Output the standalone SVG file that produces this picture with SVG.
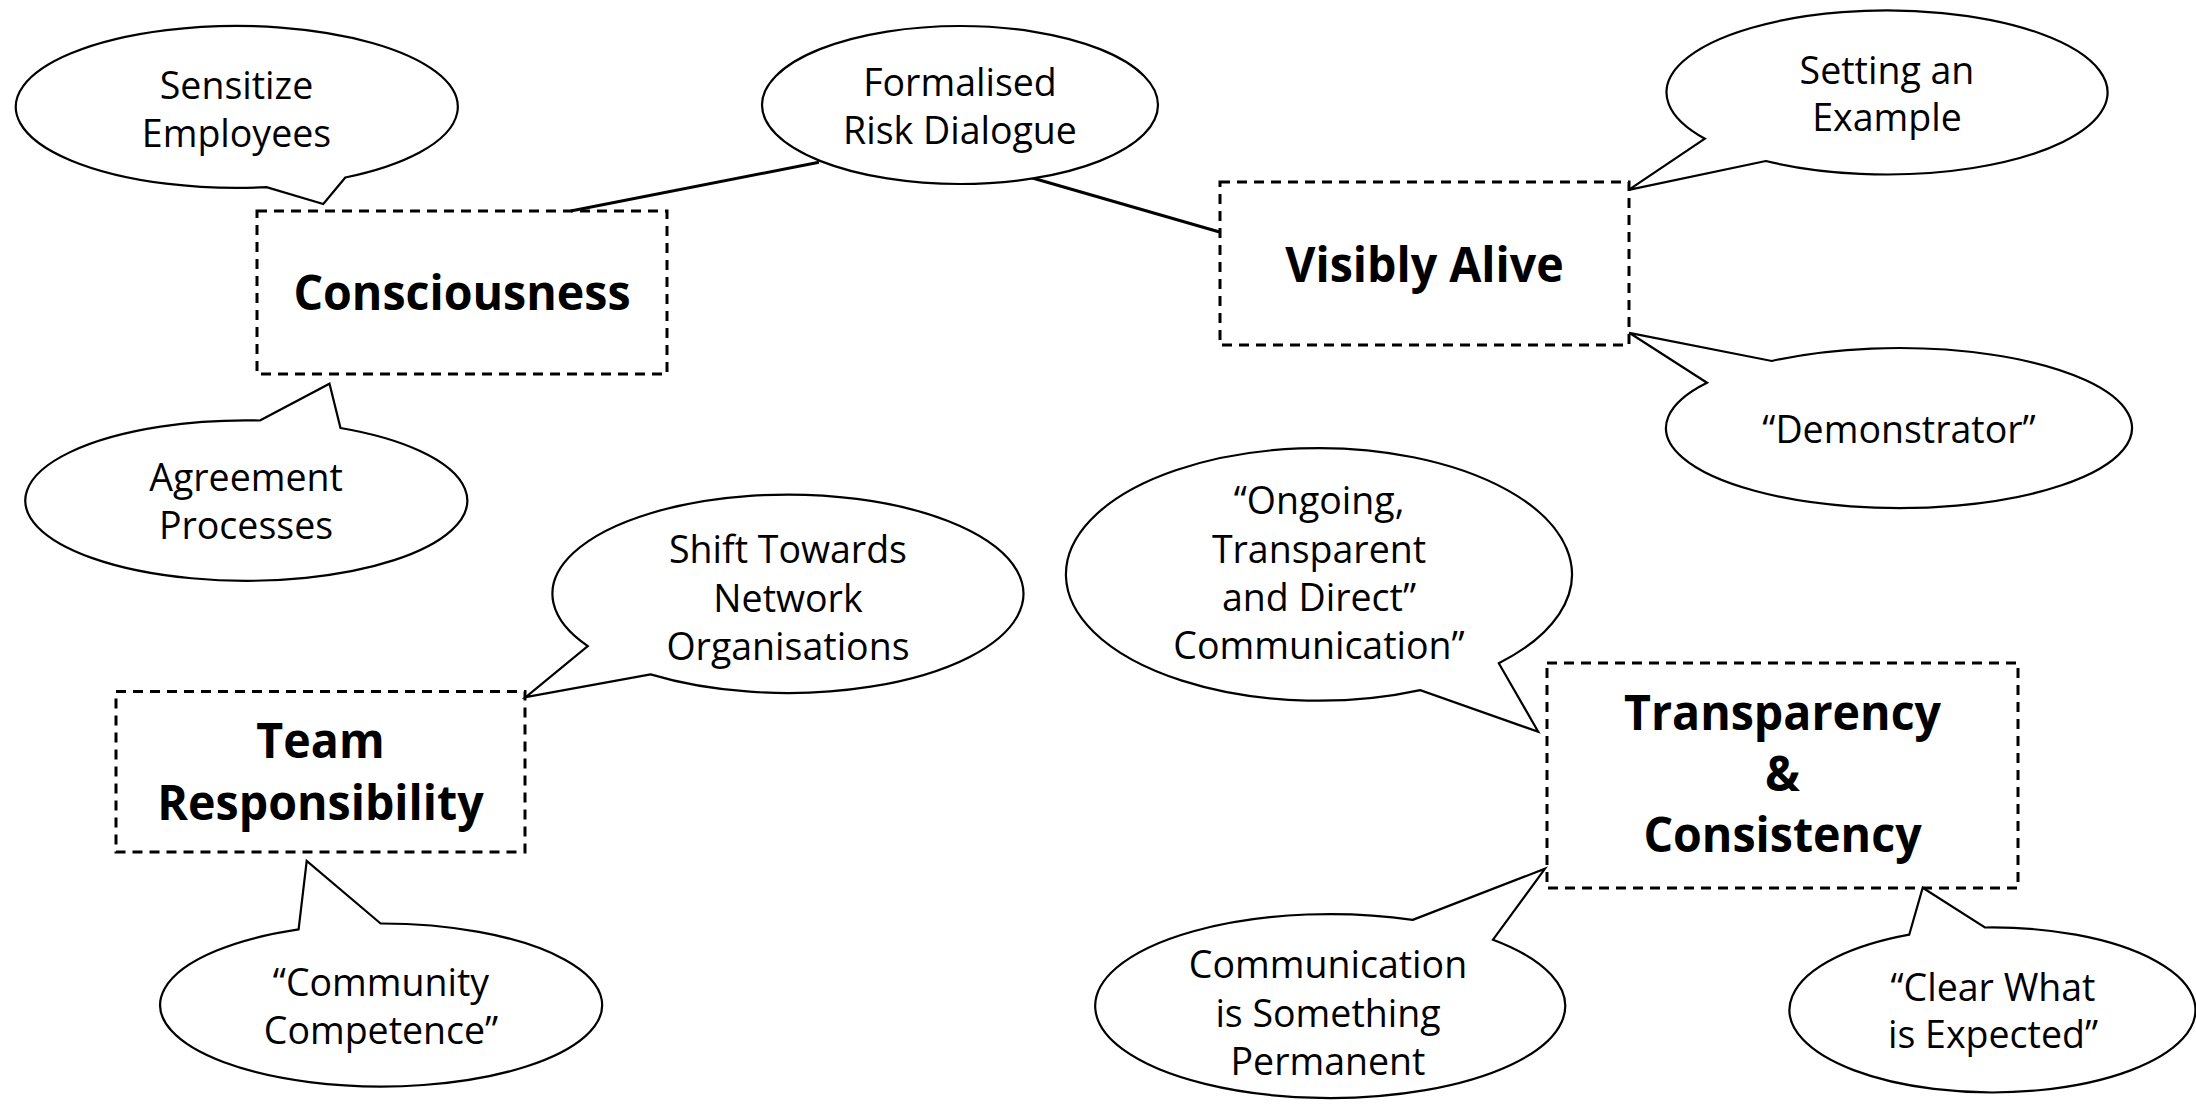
<svg xmlns="http://www.w3.org/2000/svg" width="2196" height="1106" viewBox="0 0 2196 1106">
<style>
.bal{fill:#fff;stroke:#000;stroke-width:2.2;stroke-linejoin:miter}
.box{fill:none;stroke:#000;stroke-width:3;stroke-dasharray:10 7}
.con{stroke:#000;stroke-width:3;fill:none}
.t{font-family:"Open Sans","DejaVu Sans",sans-serif;font-size:37.5px;fill:#000;text-anchor:middle}
.b{font-family:"Open Sans","DejaVu Sans",sans-serif;font-size:48px;font-weight:bold;fill:#000;text-anchor:middle}
</style>
<rect width="2196" height="1106" fill="#fff"/>
<g id="connectors">
<line class="con" x1="570.7" y1="211" x2="819" y2="162.3"/>
<line class="con" x1="1031.6" y1="177.7" x2="1220.4" y2="232.3"/>
</g>
<g id="sensitize">
<path class="bal" d="M345.3,177.5 L323.3,204 L266.5,187.2 A221 81 0 1 1 345.3,177.5 Z"/>
<text class="t" x="236.5" y="99.3">Sensitize</text>
<text class="t" x="236.5" y="146.5">Employees</text>
</g>
<g id="formalised">
<ellipse class="bal" cx="960" cy="105" rx="198" ry="79"/>
<text class="t" x="960" y="96">Formalised</text>
<text class="t" x="960" y="144">Risk Dialogue</text>
</g>
<g id="consciousness">
<rect class="box" x="257" y="211" width="410" height="163"/>
<text class="b" transform="translate(462 310) scale(0.97 1)">Consciousness</text>
</g>
<g id="agreement">
<path class="bal" d="M259.9,420.5 L329.5,383.7 L340.5,428 A221 80.2 0 1 1 259.9,420.5 Z"/>
<text class="t" x="246" y="491">Agreement</text>
<text class="t" x="246" y="539">Processes</text>
</g>
<g id="visibly-alive">
<rect class="box" x="1220" y="182" width="409" height="163"/>
<text class="b" transform="translate(1424.5 281.5) scale(0.97 1)">Visibly Alive</text>
</g>
<g id="setting-example">
<path class="bal" d="M1765.9,161 L1628.7,189.9 L1704.9,138.7 A220.5 82 0 1 1 1765.9,161 Z"/>
<text class="t" x="1887" y="84.2">Setting an</text>
<text class="t" x="1887" y="131.4">Example</text>
</g>
<g id="demonstrator">
<path class="bal" d="M1707,382.7 L1629.2,332.8 L1771.8,361 A233 80 0 1 1 1707,382.7 Z"/>
<text class="t" x="1899" y="443">“Demonstrator”</text>
</g>
<g id="shift-towards">
<path class="bal" d="M650.6,674.4 L525.7,697.1 L587.8,646.1 A235.5 99.2 0 1 1 650.6,674.4 Z"/>
<text class="t" x="788" y="562.7">Shift Towards</text>
<text class="t" x="788" y="611.8">Network</text>
<text class="t" x="788" y="660.4">Organisations</text>
</g>
<g id="team-responsibility">
<rect class="box" x="116" y="691.5" width="409" height="160.5"/>
<text class="b" transform="translate(320.5 757.5) scale(0.97 1)">Team</text>
<text class="b" transform="translate(320.5 820) scale(0.97 1)">Responsibility</text>
</g>
<g id="community">
<path class="bal" d="M298.6,929.4 L306.7,861 L380.6,923.5 A221 81.5 0 1 1 298.6,929.4 Z"/>
<text class="t" x="381" y="996">“Community</text>
<text class="t" x="381" y="1044">Competence”</text>
</g>
<g id="ongoing">
<path class="bal" d="M1498.8,663.2 L1538.2,731.8 L1420.3,690.1 A253 126.3 0 1 1 1498.8,663.2 Z"/>
<text class="t" x="1319" y="514">“Ongoing,</text>
<text class="t" x="1319" y="562.8">Transparent</text>
<text class="t" x="1319" y="611">and Direct”</text>
<text class="t" x="1319" y="658.5">Communication”</text>
</g>
<g id="transparency-consistency">
<rect class="box" x="1547" y="663" width="471" height="225"/>
<text class="b" transform="translate(1782.5 730) scale(0.97 1)">Transparency</text>
<text class="b" transform="translate(1782.5 791) scale(0.97 1)">&amp;</text>
<text class="b" transform="translate(1782.5 852) scale(0.97 1)">Consistency</text>
</g>
<g id="communication-permanent">
<path class="bal" d="M1412.7,919.9 L1545,868.7 L1493,939.7 A235 92 0 1 1 1412.7,919.9 Z"/>
<text class="t" x="1328" y="978">Communication</text>
<text class="t" x="1328" y="1027">is Something</text>
<text class="t" x="1328" y="1074.5">Permanent</text>
</g>
<g id="clear-expected">
<path class="bal" d="M1909.2,934.7 L1922.7,887.7 L1984.9,927.5 A203 82.5 0 1 1 1909.2,934.7 Z"/>
<text class="t" x="1993" y="1001">“Clear What</text>
<text class="t" x="1993" y="1047.7">is Expected”</text>
</g>
</svg>
